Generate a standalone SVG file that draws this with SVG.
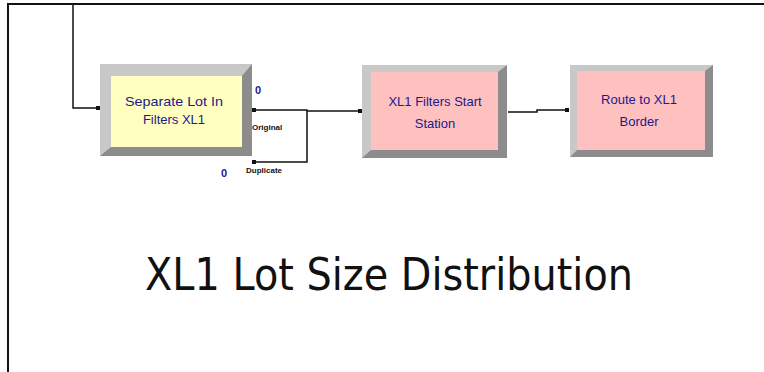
<svg xmlns="http://www.w3.org/2000/svg" width="764" height="372" viewBox="0 0 764 372">
<style>
.lbl{font-family:"Liberation Sans",Arial,sans-serif;font-size:13px;fill:#1a1a8c;text-anchor:middle}
.small{font-family:"Liberation Sans",Arial,sans-serif;font-size:8px;font-weight:bold;fill:#111}
.cnt{font-family:"Liberation Sans",Arial,sans-serif;font-size:11px;fill:#1a1a8c;font-weight:bold}
.conn{fill:none;stroke:#111;stroke-width:1.5}
.bevelL{fill:#c8c8c8}
.bevelD{fill:#8c8c8c}
</style>
<defs>
<marker id="dot" markerWidth="4" markerHeight="4" refX="2" refY="2" markerUnits="userSpaceOnUse"><rect width="4" height="4" fill="#111"/></marker>
</defs>
<rect width="764" height="372" fill="#fff"/>
<g id="frame"><path d="M8 372 V4 H764" fill="none" stroke="#111" stroke-width="2"/></g>
<g id="connectors">
<path class="conn" d="M73 4 V108 H98" marker-end="url(#dot)"/>
<path class="conn" d="M254 110 H307 V162 H254"/>
<path class="conn" d="M307 111 H360" marker-end="url(#dot)"/>
<path class="conn" d="M508 112 H537 V110 H567" marker-end="url(#dot)"/>
<rect x="252" y="108" width="4" height="4" fill="#111"/>
<rect x="252" y="160" width="4" height="4" fill="#111"/>
</g>
<g id="separate">
<rect x="100" y="64" width="152" height="92" class="bevelD"/>
<polygon points="100,64 252,64 242,76 111,76 111,147 100,156" class="bevelL"/>
<rect x="111" y="76" width="131" height="71" fill="#ffffc0"/>
<text class="lbl" x="174" y="106" textLength="98" lengthAdjust="spacingAndGlyphs">Separate Lot In</text>
<text class="lbl" x="174" y="124">Filters XL1</text>
<text class="cnt" x="255" y="94">0</text>
<text class="cnt" x="221" y="177">0</text>
<text class="small" x="252" y="130">Original</text>
<text class="small" x="246" y="173">Duplicate</text>
</g>
<g id="startStation">
<rect x="362" y="65" width="145" height="93" class="bevelD"/>
<polygon points="362,65 507,65 498,72 371,72 371,150 362,158" class="bevelL"/>
<rect x="371" y="72" width="127" height="78" fill="#ffc0c0"/>
<text class="lbl" x="435" y="106">XL1 Filters Start</text>
<text class="lbl" x="435" y="128">Station</text>
</g>
<g id="route">
<rect x="570" y="65" width="143" height="92" class="bevelD"/>
<polygon points="570,65 713,65 705,71 577,71 577,150 570,157" class="bevelL"/>
<rect x="577" y="71" width="128" height="79" fill="#ffc0c0"/>
<text class="lbl" x="639" y="104">Route to XL1</text>
<text class="lbl" x="639" y="126">Border</text>
</g>
<text x="145" y="290" font-family="DejaVu Sans,sans-serif" font-size="44" fill="#111" textLength="488" lengthAdjust="spacingAndGlyphs">XL1 Lot Size Distribution</text>
</svg>
